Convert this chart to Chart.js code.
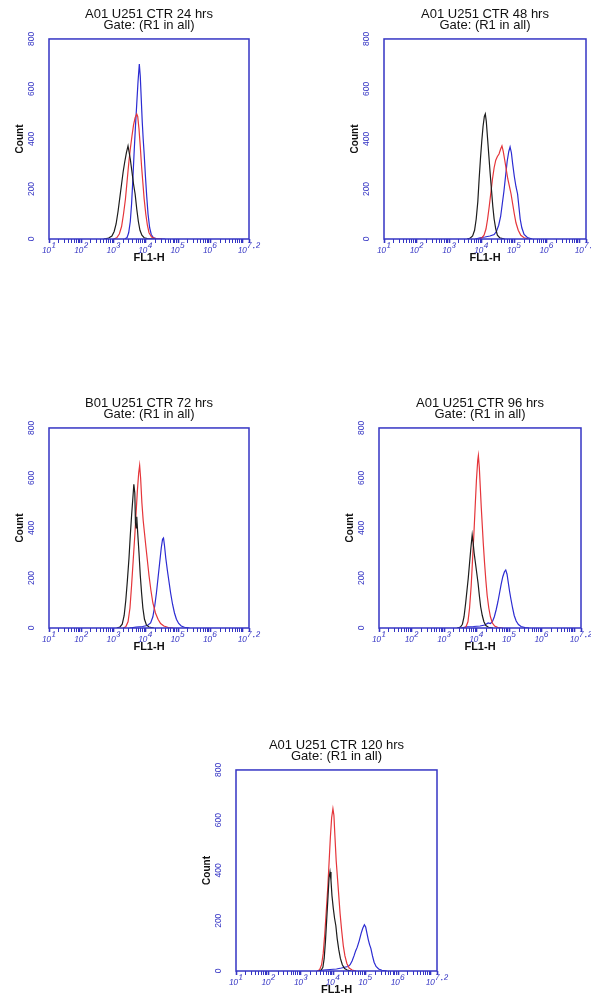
<!DOCTYPE html>
<html>
<head>
<meta charset="utf-8">
<title>U251 CTR FL1-H</title>
<script src="https://cdn.jsdelivr.net/npm/chart.js@4.4.1/dist/chart.umd.min.js"></script>
<style>
  html, body { margin: 0; padding: 0; background: #fff; overflow: hidden; }
  #page { position: relative; width: 591px; height: 1007px; overflow: hidden; background: #fff; }
  #page canvas { position: absolute; }
</style>
</head>
<body>
<div id="page">
  <canvas id="h24"></canvas>
  <canvas id="h48"></canvas>
  <canvas id="h72"></canvas>
  <canvas id="h96"></canvas>
  <canvas id="h120"></canvas>
</div>
<script>
"use strict"

//Titlar och axlar
const sampleTitles = ["A01 U251 CTR 24 hrs", "A01 U251 CTR 48 hrs", "B01 U251 CTR 72 hrs", "A01 U251 CTR 96 hrs", "A01 U251 CTR 120 hrs"];
const gateLabel = "Gate: (R1 in all)";
const yTickValues = [0, 200, 400, 600, 800];
const xDecades = [1, 2, 3, 4, 5, 6, 7];
const xLabelled = [1, 2, 3, 4, 5, 6, 7.2];
const xEnd = 7.2;

//Histogram: [decade exponent of FL1-H, count]
const black24 = [[2.70,0],[2.85,4],[2.95,12],[3.02,30],[3.08,60],[3.14,110],[3.20,170],[3.25,220],[3.30,270],[3.35,310],[3.40,345],[3.45,372],[3.48,350],[3.52,320],[3.57,270],[3.62,220],[3.67,180],[3.72,120],[3.77,70],[3.82,35],[3.88,15],[3.95,5],[4.05,2],[4.30,0]];
const red24 = [[3.00,0],[3.10,5],[3.18,20],[3.25,50],[3.31,100],[3.37,160],[3.42,230],[3.47,300],[3.52,360],[3.57,410],[3.62,455],[3.67,485],[3.72,500],[3.75,490],[3.79,440],[3.83,370],[3.87,290],[3.91,225],[3.95,160],[4.00,100],[4.05,55],[4.10,25],[4.18,8],[4.30,2],[4.50,0]];
const blue24 = [[3.35,0],[3.42,6],[3.47,25],[3.52,70],[3.56,140],[3.60,240],[3.64,350],[3.68,450],[3.72,540],[3.76,630],[3.80,700],[3.83,650],[3.86,560],[3.89,470],[3.92,400],[3.95,340],[3.99,250],[4.03,170],[4.07,100],[4.12,45],[4.17,18],[4.24,5],[4.35,1],[4.60,0]];

const black48 = [[3.55,0],[3.65,4],[3.72,12],[3.78,35],[3.83,80],[3.88,150],[3.92,240],[3.96,320],[4.00,390],[4.04,450],[4.08,490],[4.11,500],[4.14,470],[4.18,400],[4.22,330],[4.26,260],[4.30,195],[4.34,130],[4.38,80],[4.43,40],[4.48,15],[4.55,5],[4.70,0]];
const red48 = [[3.90,0],[4.00,4],[4.07,15],[4.13,40],[4.18,80],[4.23,130],[4.28,185],[4.33,240],[4.38,285],[4.43,315],[4.48,330],[4.53,340],[4.58,360],[4.62,372],[4.66,350],[4.70,320],[4.75,280],[4.80,240],[4.85,210],[4.90,180],[4.95,140],[5.00,100],[5.05,65],[5.12,35],[5.20,15],[5.30,5],[5.45,0]];
const blue48 = [[3.80,0],[3.95,5],[4.10,8],[4.25,12],[4.38,18],[4.45,30],[4.52,55],[4.58,90],[4.63,140],[4.68,190],[4.73,250],[4.78,310],[4.83,350],[4.87,368],[4.91,345],[4.95,300],[5.00,250],[5.05,210],[5.10,180],[5.14,130],[5.18,80],[5.23,45],[5.30,18],[5.40,6],[5.55,0]];

const black72 = [[3.10,0],[3.20,4],[3.27,15],[3.33,50],[3.38,110],[3.43,190],[3.48,280],[3.52,370],[3.56,450],[3.60,520],[3.63,575],[3.66,540],[3.68,420],[3.70,400],[3.72,445],[3.75,380],[3.79,300],[3.83,210],[3.87,140],[3.91,80],[3.96,35],[4.02,12],[4.10,4],[4.25,0]];
const red72 = [[3.30,0],[3.38,5],[3.45,25],[3.51,80],[3.56,170],[3.61,270],[3.66,370],[3.70,460],[3.74,550],[3.78,620],[3.81,650],[3.84,600],[3.88,500],[3.92,430],[3.96,380],[4.00,330],[4.05,270],[4.10,210],[4.16,150],[4.22,100],[4.30,60],[4.38,35],[4.46,18],[4.56,8],[4.70,2],[4.85,0]];
const blue72 = [[3.50,0],[3.70,4],[3.90,6],[4.05,10],[4.15,20],[4.22,45],[4.28,90],[4.33,140],[4.38,200],[4.43,260],[4.48,320],[4.52,355],[4.55,360],[4.58,330],[4.62,280],[4.67,230],[4.72,185],[4.77,140],[4.83,95],[4.89,60],[4.95,35],[5.02,18],[5.10,8],[5.20,3],[5.35,0]];

const black96 = [[3.40,0],[3.50,4],[3.56,15],[3.61,45],[3.66,100],[3.70,150],[3.74,200],[3.78,260],[3.82,320],[3.86,372],[3.89,340],[3.92,300],[3.96,260],[4.00,220],[4.04,180],[4.08,130],[4.12,85],[4.17,50],[4.22,25],[4.28,10],[4.36,3],[4.50,0]];
const red96 = [[3.60,0],[3.67,5],[3.73,25],[3.78,80],[3.83,170],[3.87,270],[3.91,370],[3.95,480],[3.99,590],[4.03,670],[4.05,690],[4.08,640],[4.11,560],[4.14,480],[4.17,410],[4.20,340],[4.24,260],[4.28,190],[4.32,130],[4.37,80],[4.42,45],[4.48,20],[4.55,8],[4.65,2],[4.80,0]];
const blue96 = [[3.50,0],[3.70,5],[3.90,6],[4.10,8],[4.25,12],[4.35,20],[4.42,18],[4.48,25],[4.54,45],[4.60,75],[4.65,105],[4.70,140],[4.75,175],[4.80,205],[4.85,225],[4.89,232],[4.93,215],[4.97,180],[5.01,145],[5.05,115],[5.10,80],[5.15,50],[5.21,28],[5.28,14],[5.36,6],[5.48,2],[5.60,0]];

const black120 = [[3.55,0],[3.63,4],[3.68,15],[3.72,50],[3.76,120],[3.80,210],[3.84,300],[3.87,370],[3.90,394],[3.93,360],[3.96,300],[4.00,250],[4.04,210],[4.08,180],[4.12,130],[4.17,85],[4.22,50],[4.28,25],[4.35,10],[4.43,4],[4.55,0]];
const red120 = [[3.50,0],[3.58,5],[3.64,25],[3.69,70],[3.74,150],[3.79,250],[3.83,330],[3.87,430],[3.91,530],[3.95,610],[3.99,646],[4.02,620],[4.05,540],[4.09,440],[4.13,370],[4.17,300],[4.21,230],[4.26,160],[4.31,100],[4.36,60],[4.42,30],[4.49,12],[4.58,4],[4.70,0]];
const blue120 = [[3.50,0],[3.70,4],[3.90,6],[4.10,8],[4.25,12],[4.38,16],[4.46,18],[4.52,25],[4.58,40],[4.64,60],[4.69,80],[4.74,95],[4.80,120],[4.86,150],[4.91,170],[4.96,184],[5.00,175],[5.04,150],[5.08,125],[5.12,105],[5.16,90],[5.21,60],[5.26,35],[5.32,18],[5.40,8],[5.50,3],[5.65,0]];

/*---------------------------------*/

//Placering av varje ruta (plot-ytans vänsterkant, överkant, bredd, höjd)
const panels = [
    { id: "h24",  box: [49, 39, 200, 200],  series: [black24, red24, blue24] },
    { id: "h48",  box: [384, 39, 202, 200], series: [black48, red48, blue48] },
    { id: "h72",  box: [49, 428, 200, 200], series: [black72, red72, blue72] },
    { id: "h96",  box: [379, 428, 202, 200], series: [black96, red96, blue96] },
    { id: "h120", box: [236, 770, 201, 201], series: [black120, red120, blue120] }
];

const axisBlue = "#3535c4";
const lineColors = ["#1c1c1c", "#e5353a", "#2b2bd2"];
const sideWidth = 49;
const titleHeight = 39;
const xAxisHeight = 36;

Chart.defaults.font.family = "'Liberation Sans', Arial, sans-serif";

const SUP = { "0": "⁰", "1": "¹", "2": "²", "3": "³", "4": "⁴", "5": "⁵", "6": "⁶", "7": "⁷", ".": "·" };

function decadeLabel(v){
    return "₁₀" + String(v).split("").map(c => SUP[c]).join("");
}

//log-skala: tick vid varje dekad + 2..9 inom dekaden
function logTicks(scale){
    const ticks = [];
    xDecades.forEach(d => {
        for (let k = 1; k <= 9; k++) {
            const v = d + Math.log10(k);
            if (v <= xEnd + 1e-9) ticks.push({ value: v, major: k === 1 });
        }
    });
    ticks.push({ value: xEnd, major: true });
    scale.ticks = ticks;
}

function xTickLabel(value){
    const v = Math.round(value * 10) / 10;
    if (Math.abs(value - v) > 1e-6) return "";
    return xLabelled.includes(v) ? decadeLabel(v) : "";
}

//ram runt plot-ytan
const boxBorder = {
    id: "boxBorder",
    afterDatasetsDraw(chart){
        const {ctx, chartArea: {left, top, width, height}} = chart;
        ctx.save();
        ctx.strokeStyle = axisBlue;
        ctx.lineWidth = 1.5;
        ctx.strokeRect(left, top, width, height);
        ctx.restore();
    }
};

function createHistogram(panel, title){
    const [left, top, w, h] = panel.box;
    const canvas = document.getElementById(panel.id);
    canvas.width = w + 2 * sideWidth;
    canvas.height = h + titleHeight + xAxisHeight;
    canvas.style.left = (left - sideWidth) + "px";
    canvas.style.top = (top - titleHeight) + "px";

    const datasets = panel.series.map((s, i) => ({
        data: s.map(p => ({ x: p[0], y: p[1] })),
        borderColor: lineColors[i],
        borderWidth: 1.2,
        pointRadius: 0,
        tension: 0,
        fill: false
    }));

    new Chart(canvas.getContext("2d"), {
        type: "line",
        data: { datasets: datasets },
        plugins: [boxBorder],
        options: {
            responsive: false,
            animation: false,
            devicePixelRatio: 1,
            layout: { padding: 0 },
            plugins: {
                legend: { display: false },
                tooltip: { enabled: false },
                title: {
                    display: true,
                    text: [title, gateLabel],
                    color: "#111",
                    font: { size: 13, weight: "normal", lineHeight: 0.86 },
                    padding: { top: 9.1, bottom: 7.5 }
                }
            },
            scales: {
                x: {
                    type: "linear",
                    min: 1,
                    max: xEnd,
                    afterBuildTicks: logTicks,
                    afterFit: s => { s.height = xAxisHeight; },
                    border: { display: false },
                    grid: {
                        drawOnChartArea: false,
                        drawTicks: true,
                        tickLength: 4,
                        tickColor: axisBlue,
                        tickWidth: c => (c.tick && c.tick.major ? 1.6 : 1)
                    },
                    ticks: {
                        autoSkip: false,
                        minRotation: 0,
                        maxRotation: 0,
                        padding: -1,
                        color: axisBlue,
                        font: { size: 12, style: "italic", lineHeight: 1 },
                        callback: xTickLabel
                    },
                    title: {
                        display: true,
                        text: "FL1-H",
                        color: "#111",
                        font: { size: 11, weight: "bold" },
                        padding: { top: 0, bottom: 10.4 }
                    }
                },
                y: {
                    min: 0,
                    max: 800,
                    afterBuildTicks: s => { s.ticks = yTickValues.map(v => ({ value: v })); },
                    afterFit: s => { s.width = sideWidth; },
                    border: { display: false },
                    grid: { display: false, drawTicks: false },
                    ticks: {
                        minRotation: 90,
                        maxRotation: 90,
                        crossAlign: "center",
                        padding: 10,
                        color: axisBlue,
                        font: { size: 8.5 }
                    },
                    title: {
                        display: true,
                        text: "Count",
                        color: "#111",
                        font: { size: 10, weight: "bold" },
                        padding: { top: 14, bottom: 0 }
                    }
                },
                //tom axel till höger så att titeln centreras över rutan
                yRight: {
                    position: "right",
                    afterFit: s => { s.width = sideWidth; },
                    border: { display: false },
                    grid: { display: false, drawTicks: false },
                    ticks: { display: false }
                }
            }
        }
    });
}

panels.forEach((p, i) => createHistogram(p, sampleTitles[i]));
</script>
</body>
</html>
